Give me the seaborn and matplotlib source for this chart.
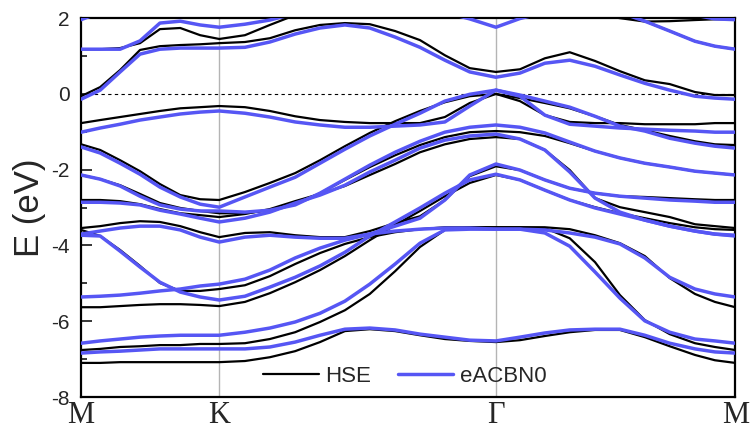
import matplotlib
matplotlib.use("Agg")
import matplotlib.pyplot as plt
import pandas as pd
import seaborn as sns
from matplotlib.lines import Line2D

# sampled k-path (units of 2pi/a): M -> K -> Gamma -> M
k_path = [0.000, 0.046, 0.094, 0.142, 0.190, 0.239, 0.287, 0.333, 0.395, 0.455,
          0.516, 0.576, 0.636, 0.696, 0.757, 0.817, 0.877, 0.937, 1.000, 1.058,
          1.118, 1.178, 1.239, 1.299, 1.359, 1.419, 1.480, 1.528, 1.577]
k_ticks = [0.0, 0.333, 1.0, 1.577]
k_labels = ["M", "K", "Γ", "M"]

# HSE bands (eV)
hse_c1 = [-0.06, 0.18, 0.63, 1.16, 1.26, 1.29, 1.31, 1.34, 1.37, 1.47, 1.68, 1.82, 1.87, 1.84, 1.66,
          1.42, 1.02, 0.68, 0.58, 0.65, 0.94, 1.10, 0.87, 0.60, 0.36, 0.26, 0.05, -0.03, -0.03]
hse_c2 = [1.18, 1.18, 1.21, 1.34, 1.71, 1.74, 1.55, 1.45, 1.55, 1.82, 2.08, 2.30, 2.40, 2.40, 2.40,
          2.35, 2.30, 2.20, 2.15, 2.20, 2.30, 2.35, 2.30, 2.15, 1.92, 1.66, 1.39, 1.26, 1.18]
hse_c3 = [1.97, 2.15, 2.35, 2.50, 2.60, 2.65, 2.65, 2.65, 2.65, 2.65, 2.65, 2.65, 2.65, 2.65, 2.65,
          2.65, 2.65, 2.65, 2.65, 2.60, 2.50, 2.30, 2.10, 2.00, 1.91, 1.92, 1.95, 1.97, 1.97]
hse_v1 = [-0.77, -0.69, -0.61, -0.53, -0.45, -0.38, -0.35, -0.32, -0.35, -0.45, -0.59, -0.69, -0.74, -0.77, -0.77,
          -0.77, -0.61, -0.24, 0.00, -0.19, -0.56, -0.74, -0.77, -0.77, -0.80, -0.80, -0.80, -0.77, -0.77]
hse_v2 = [-1.33, -1.48, -1.75, -2.04, -2.38, -2.67, -2.78, -2.80, -2.59, -2.35, -2.09, -1.75, -1.38, -1.03, -0.72,
          -0.45, -0.22, -0.06, 0.00, -0.11, -0.24, -0.38, -0.59, -0.82, -0.96, -1.11, -1.25, -1.33, -1.35]
hse_v3 = [-2.14, -2.25, -2.41, -2.64, -2.88, -3.01, -3.09, -3.15, -3.15, -3.07, -2.91, -2.62, -2.27, -1.93, -1.62,
          -1.35, -1.14, -1.01, -0.98, -1.01, -1.11, -1.30, -1.51, -1.69, -1.83, -1.93, -2.04, -2.09, -2.14]
hse_v4 = [-2.80, -2.80, -2.83, -2.91, -3.04, -3.15, -3.20, -3.25, -3.17, -3.04, -2.83, -2.64, -2.43, -2.14, -1.85,
          -1.54, -1.33, -1.19, -1.14, -1.19, -1.48, -2.01, -2.75, -2.99, -3.12, -3.25, -3.44, -3.49, -3.54]
hse_v5 = [-3.54, -3.49, -3.41, -3.36, -3.38, -3.49, -3.65, -3.78, -3.67, -3.65, -3.73, -3.78, -3.78, -3.62, -3.41,
          -3.23, -2.80, -2.17, -1.91, -2.01, -2.27, -2.49, -2.62, -2.70, -2.72, -2.75, -2.78, -2.80, -2.80]
hse_v6 = [-3.59, -3.75, -4.12, -4.54, -4.99, -5.20, -5.20, -5.15, -5.05, -4.81, -4.49, -4.20, -3.96, -3.78, -3.65,
          -3.57, -3.52, -3.52, -3.52, -3.52, -3.52, -3.57, -3.73, -3.94, -4.28, -4.86, -5.28, -5.49, -5.63]
hse_v7 = [-5.63, -5.63, -5.60, -5.57, -5.55, -5.55, -5.57, -5.60, -5.49, -5.26, -4.97, -4.65, -4.28, -3.86, -3.46,
          -3.09, -2.70, -2.35, -2.14, -2.27, -2.54, -2.80, -2.99, -3.15, -3.28, -3.41, -3.52, -3.57, -3.59]
hse_v8 = [-6.76, -6.73, -6.68, -6.66, -6.63, -6.63, -6.60, -6.60, -6.58, -6.47, -6.29, -6.02, -5.71, -5.28, -4.68,
          -4.04, -3.59, -3.52, -3.52, -3.52, -3.54, -3.81, -4.44, -5.31, -5.97, -6.34, -6.58, -6.68, -6.76]
hse_v9 = [-7.10, -7.10, -7.08, -7.08, -7.08, -7.08, -7.08, -7.08, -7.05, -6.95, -6.79, -6.55, -6.26, -6.21, -6.26,
          -6.37, -6.47, -6.52, -6.55, -6.50, -6.39, -6.29, -6.23, -6.23, -6.42, -6.66, -6.89, -7.03, -7.10]

# eACBN0 bands (eV)
acbn_c1 = [-0.14, 0.10, 0.58, 1.05, 1.18, 1.21, 1.21, 1.21, 1.23, 1.37, 1.58, 1.74, 1.82, 1.74, 1.50,
           1.23, 0.89, 0.58, 0.44, 0.55, 0.81, 0.89, 0.73, 0.50, 0.28, 0.10, -0.06, -0.11, -0.14]
acbn_c2 = [1.18, 1.18, 1.18, 1.40, 1.87, 1.92, 1.82, 1.76, 1.84, 1.95, 2.12, 2.30, 2.40, 2.40, 2.35,
           2.25, 2.15, 1.98, 1.76, 1.99, 2.15, 2.30, 2.30, 2.15, 1.92, 1.66, 1.39, 1.26, 1.18]
acbn_c3 = [1.96, 2.15, 2.35, 2.50, 2.60, 2.65, 2.65, 2.65, 2.65, 2.65, 2.65, 2.65, 2.65, 2.65, 2.65,
           2.65, 2.65, 2.65, 2.65, 2.60, 2.55, 2.50, 2.45, 2.40, 2.35, 2.30, 2.08, 1.98, 1.96]
acbn_v1 = [-1.01, -0.90, -0.80, -0.69, -0.61, -0.53, -0.48, -0.45, -0.51, -0.61, -0.74, -0.82, -0.88, -0.88, -0.85,
           -0.82, -0.74, -0.32, 0.10, -0.06, -0.56, -0.80, -0.85, -0.90, -0.93, -0.96, -0.98, -1.01, -1.01]
acbn_v2 = [-1.40, -1.56, -1.83, -2.12, -2.46, -2.72, -2.91, -2.99, -2.72, -2.46, -2.20, -1.83, -1.46, -1.11, -0.80,
           -0.51, -0.19, -0.01, 0.10, -0.03, -0.19, -0.35, -0.59, -0.85, -0.98, -1.17, -1.30, -1.38, -1.43]
acbn_v3 = [-2.14, -2.25, -2.43, -2.70, -2.93, -3.04, -3.09, -3.09, -3.12, -3.07, -2.93, -2.62, -2.25, -1.88, -1.54,
           -1.25, -1.01, -0.88, -0.82, -0.88, -1.03, -1.27, -1.51, -1.69, -1.83, -1.93, -2.04, -2.09, -2.14]
acbn_v4 = [-2.86, -2.86, -2.88, -2.93, -3.07, -3.17, -3.28, -3.38, -3.28, -3.12, -2.88, -2.67, -2.41, -2.06, -1.75,
           -1.43, -1.22, -1.11, -1.06, -1.19, -1.48, -2.06, -2.75, -3.12, -3.33, -3.49, -3.62, -3.70, -3.75]
acbn_v5 = [-3.70, -3.62, -3.54, -3.49, -3.49, -3.59, -3.78, -3.91, -3.78, -3.73, -3.78, -3.81, -3.81, -3.70, -3.49,
           -3.28, -2.80, -2.14, -1.85, -2.01, -2.27, -2.49, -2.62, -2.70, -2.75, -2.80, -2.83, -2.86, -2.86]
acbn_v6 = [-3.73, -3.75, -4.15, -4.57, -4.97, -5.23, -5.36, -5.44, -5.34, -5.10, -4.84, -4.54, -4.18, -3.75, -3.38,
           -3.01, -2.62, -2.27, -2.12, -2.27, -2.54, -2.80, -3.01, -3.17, -3.33, -3.49, -3.62, -3.70, -3.73]
acbn_v7 = [-5.36, -5.34, -5.31, -5.26, -5.20, -5.15, -5.07, -5.02, -4.89, -4.65, -4.33, -4.07, -3.86, -3.70, -3.62,
           -3.57, -3.54, -3.54, -3.57, -3.57, -3.59, -3.67, -3.78, -3.96, -4.33, -4.84, -5.15, -5.28, -5.36]
acbn_v8 = [-6.58, -6.52, -6.47, -6.42, -6.39, -6.37, -6.37, -6.37, -6.29, -6.18, -6.02, -5.79, -5.47, -5.02, -4.49,
           -3.94, -3.59, -3.57, -3.57, -3.57, -3.67, -4.02, -4.70, -5.39, -5.99, -6.29, -6.47, -6.52, -6.58]
acbn_v9 = [-6.84, -6.81, -6.79, -6.76, -6.73, -6.73, -6.73, -6.73, -6.73, -6.68, -6.55, -6.37, -6.21, -6.18, -6.23,
           -6.34, -6.42, -6.50, -6.52, -6.42, -6.31, -6.23, -6.21, -6.21, -6.37, -6.58, -6.73, -6.81, -6.84]

hse_bands = [hse_c1, hse_c2, hse_c3, hse_v1, hse_v2, hse_v3, hse_v4, hse_v5, hse_v6, hse_v7, hse_v8, hse_v9]
acbn_bands = [acbn_c1, acbn_c2, acbn_c3, acbn_v1, acbn_v2, acbn_v3, acbn_v4, acbn_v5, acbn_v6, acbn_v7, acbn_v8, acbn_v9]

BLUE = "#5656f4"

rows = []
for method, bands in (("HSE", hse_bands), ("eACBN0", acbn_bands)):
    for b, energies in enumerate(bands):
        for k, e in zip(k_path, energies):
            rows.append({"method": method, "band": b, "k": k, "E": e})
df = pd.DataFrame(rows)

sns.set_style("ticks")
plt.rcParams["font.family"] = ["Liberation Sans", "DejaVu Sans"]
plt.rcParams["axes.unicode_minus"] = False

fig = plt.figure(figsize=(7.51, 4.32), dpi=100)
ax = fig.add_axes([0.108, 0.081, 0.871, 0.877])

for x in k_ticks[1:-1]:
    ax.axvline(x, color="#b4b4b4", lw=1.0, zorder=0.5)
ax.axhline(0, color="black", lw=0.8, ls=(0, (3, 3)), zorder=0.6)

sns.lineplot(data=df[df["method"] == "HSE"], x="k", y="E", units="band", estimator=None,
             sort=False, color="black", lw=1.6, legend=False, ax=ax, zorder=2)
sns.lineplot(data=df[df["method"] == "eACBN0"], x="k", y="E", units="band", estimator=None,
             sort=False, color=BLUE, lw=2.5, legend=False, ax=ax, zorder=3)

ax.set_xlim(k_ticks[0], k_ticks[-1])
ax.set_ylim(-8, 2)
ax.set_yticks([-8, -6, -4, -2, 0, 2])
ax.set_yticks([-7, -5, -3, -1, 1], minor=True)
ax.set_xticks(k_ticks)
ax.set_xticklabels(k_labels)
ax.set_xlabel("")
ax.set_ylabel("E (eV)", fontsize=25, labelpad=4)

ax.tick_params(axis="y", which="major", direction="in", length=8, width=1.3, labelsize=15, pad=8)
ax.tick_params(axis="y", which="minor", direction="in", length=4, width=1.3)
ax.tick_params(axis="x", length=0, pad=3)
for lab in ax.get_xticklabels():
    lab.set_fontfamily(["Liberation Serif", "DejaVu Serif"])
    lab.set_fontsize(22)

for sp in ax.spines.values():
    sp.set_linewidth(1.6)
    sp.set_color("black")

handles = [Line2D([], [], color="black", lw=1.6), Line2D([], [], color=BLUE, lw=2.5)]
ax.legend(handles, ["HSE", "eACBN0"], ncol=2, frameon=False, loc="center",
          bbox_to_anchor=(0.495, 0.055), fontsize=16, handlelength=2.5,
          handletextpad=0.3, columnspacing=1.2)

fig.savefig("out.png", dpi=100)
